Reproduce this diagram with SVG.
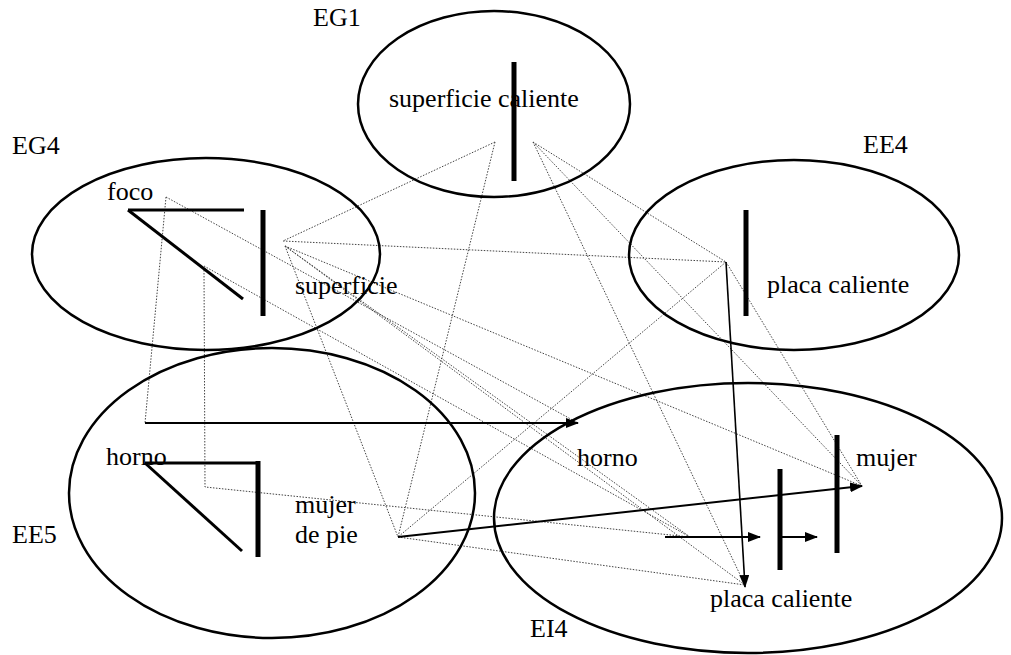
<svg xmlns="http://www.w3.org/2000/svg" width="1011" height="655" viewBox="0 0 1011 655">
<defs>
<style>
.ell{fill:none;stroke:#000;stroke-width:2.5}
text{font-family:'Liberation Serif','Times New Roman','DejaVu Serif',serif;font-size:26px;fill:#000}
.bar{stroke:#000;stroke-width:5;fill:none}
.ray{stroke:#000;stroke-width:3;fill:none}
.dot{stroke:#444;stroke-width:1;stroke-dasharray:1.5 1.5;fill:none}
.arr{stroke:#000;stroke-width:2;fill:none;marker-end:url(#ah)}
</style>
<marker id="ah" markerUnits="userSpaceOnUse" markerWidth="13" markerHeight="10" refX="12" refY="5" orient="auto">
<path d="M0,0 L13,5 L0,10 z" fill="#000"/>
</marker>
</defs>
<rect width="1011" height="655" fill="#fff"/>

<g id="connectors">
<polyline class="dot" points="495,142 283,241"/>
<polyline class="dot" points="495,142 398,537"/>
<polyline class="dot" points="533,142 726,262"/>
<polyline class="dot" points="533,142 862,486"/>
<polyline class="dot" points="533,142 745,585"/>
<polyline class="dot" points="283,241 726,262"/>
<polyline class="dot" points="285,246 862,486"/>
<polyline class="dot" points="285,246 745,585"/>
<polyline class="dot" points="285,246 690,537"/>
<polyline class="dot" points="285,246 398,537"/>
<polyline class="dot" points="726,262 398,537"/>
<polyline class="dot" points="726,262 862,486"/>
<polyline class="dot" points="398,537 745,585"/>
<polyline class="dot" points="166,197 145,423"/>
<polyline class="dot" points="166,197 578,423"/>
<polyline class="dot" points="204,266 690,537"/>
<polyline class="dot" points="204,270 205,487 690,537"/>
<line class="arr" x1="145" y1="423" x2="578" y2="423"/>
<line class="arr" x1="398" y1="537" x2="862" y2="486"/>
<line class="arr" x1="726" y1="262" x2="745" y2="587" style="stroke-width:1.6"/>
</g>

<g id="EG1">
<ellipse class="ell" cx="494" cy="104" rx="136" ry="93"/>
<text x="313" y="26" font-family="Liberation Serif, serif">EG1</text>
<text x="389" y="107" font-family="Liberation Serif, serif">superficie caliente</text>
<line class="bar" x1="514" y1="62" x2="514" y2="181"/>
</g>

<g id="EG4">
<ellipse class="ell" cx="206" cy="254" rx="174" ry="96"/>
<text x="12" y="154" font-family="Liberation Serif, serif">EG4</text>
<text x="107" y="200" font-family="Liberation Serif, serif">foco</text>
<text x="295" y="294" font-family="Liberation Serif, serif">superficie</text>
<line class="ray" x1="128" y1="210" x2="244" y2="210"/>
<line class="ray" x1="128" y1="210" x2="243" y2="299"/>
<line class="bar" x1="263" y1="210" x2="263" y2="316"/>
</g>

<g id="EE4">
<ellipse class="ell" cx="794" cy="255" rx="165" ry="95"/>
<text x="863" y="153" font-family="Liberation Serif, serif">EE4</text>
<text x="767" y="293" font-family="Liberation Serif, serif">placa caliente</text>
<line class="bar" x1="746" y1="210" x2="746" y2="316"/>
</g>

<g id="EE5">
<ellipse class="ell" cx="272" cy="493" rx="203" ry="145"/>
<text x="12" y="543" font-family="Liberation Serif, serif">EE5</text>
<text x="106" y="465" font-family="Liberation Serif, serif">horno</text>
<text x="295" y="513" font-family="Liberation Serif, serif">mujer</text>
<text x="295" y="543" font-family="Liberation Serif, serif">de pie</text>
<line class="ray" x1="145" y1="463" x2="258" y2="463"/>
<line class="ray" x1="145" y1="463" x2="242" y2="551"/>
<line class="bar" x1="258" y1="461" x2="258" y2="557"/>
</g>

<g id="EI4">
<ellipse class="ell" cx="748" cy="518" rx="254" ry="135"/>
<text x="530" y="637" font-family="Liberation Serif, serif">EI4</text>
<text x="577" y="466" font-family="Liberation Serif, serif">horno</text>
<text x="856" y="466" font-family="Liberation Serif, serif">mujer</text>
<text x="710" y="607" font-family="Liberation Serif, serif">placa caliente</text>
<line class="bar" x1="780" y1="469" x2="780" y2="570"/>
<line class="bar" x1="837" y1="435" x2="837" y2="553"/>
<line class="arr" x1="665" y1="537" x2="760" y2="537"/>
<line class="arr" x1="782" y1="537" x2="817" y2="537"/>
</g>
</svg>
